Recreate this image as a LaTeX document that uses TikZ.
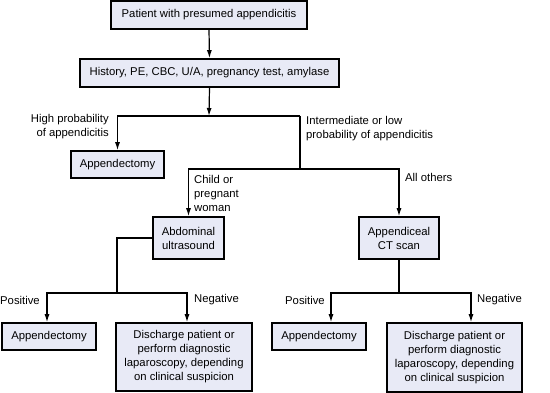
\documentclass[tikz,border=0pt]{standalone}
\usepackage{fontspec}
\setmainfont{Liberation Sans}
\usetikzlibrary{arrows.meta}
\definecolor{boxfill}{HTML}{E8EAF6}
\tikzset{
  box/.style={draw=black, line width=1.6pt, fill=boxfill, inner sep=0pt, align=center,
    font=\fontsize{11.3}{14}\selectfont},
  lbl/.style={inner sep=0pt, font=\fontsize{11.3}{14}\selectfont},
  conn/.style={line width=1.2pt},
  arr/.style={line width=1.2pt, -{Latex[length=8pt,width=5pt]}},
}
\begin{document}
\begin{tikzpicture}[x=1pt,y=-1pt]
\fill[white] (0,0) rectangle (550,393);
\useasboundingbox (0,0) rectangle (550,393);
% boxes
\node[box, minimum width=196pt, minimum height=28pt] (b1) at (209,15) {Patient with presumed appendicitis};
\node[box, minimum width=259pt, minimum height=28pt] (b2) at (209.5,73) {History, PE, CBC, U/A, pregnancy test, amylase};
\node[box, minimum width=93pt, minimum height=27pt] (a1) at (117.5,164.5) {Appendectomy};
\node[box, minimum width=71pt, minimum height=42pt] (us) at (188.5,238) {Abdominal\\ultrasound};
\node[box, minimum width=80pt, minimum height=42pt] (ct) at (399,238) {Appendiceal\\CT scan};
\node[box, minimum width=94pt, minimum height=27pt] (a2) at (49,336.5) {Appendectomy};
\node[box, minimum width=136pt, minimum height=68pt] (d1) at (184,357) {Discharge patient or\\perform diagnostic\\laparoscopy, depending\\on clinical suspicion};
\node[box, minimum width=94pt, minimum height=27pt] (a3) at (319,336.5) {Appendectomy};
\node[box, minimum width=135pt, minimum height=69pt] (d2) at (454.5,357.5) {Discharge patient or\\perform diagnostic\\laparoscopy, depending\\on clinical suspicion};
% junction coordinates
\coordinate (j1) at (209,116);
\coordinate (jL) at (117.5,116);
\coordinate (jR) at (300,116);
\coordinate (j2) at (300,169);
\coordinate (j2L) at (188.5,169);
\coordinate (j2R) at (399,169);
\coordinate (u1) at (117,238);
\coordinate (u2) at (117,293);
\coordinate (uL) at (47,293);
\coordinate (uR) at (187,293);
\coordinate (c2) at (399,293);
\coordinate (cL) at (331,293);
\coordinate (cR) at (471,293);
% connectors
\draw[arr] (b1.south) -- (b2.north);
\draw[arr] (b2.south) -- (j1);
\draw[arr] (jR) -- (jL) -- (a1.north);
\draw[conn] (jR) -- (j2);
\draw[arr] (j2R) -- (j2L) -- (us.north);
\draw[arr] (j2L) -- (j2R) -- (ct.north);
\draw[conn] (us.west) -- (u1) -- (u2);
\draw[arr] (uR) -- (uL) -- (a2.north -| uL);
\draw[arr] (uL) -- (uR) -- (d1.north -| uR);
\draw[conn] (ct.south) -- (c2);
\draw[arr] (cR) -- (cL) -- (a3.north -| cL);
\draw[arr] (cL) -- (cR) -- (d2.north -| cR);
% labels
\node[lbl, anchor=east, align=right] (l1) at (109,127) {High probability\\of appendicitis};
\node[lbl, anchor=west, align=left] (l2) at (306,129) {Intermediate or low\\probability of appendicitis};
\node[lbl, anchor=west, align=left] (l3) at (194,193) {Child or\\pregnant\\woman};
\node[lbl, anchor=west] (l4) at (405,177) {All others};
\node[lbl, anchor=west] (l5) at (0,300) {Positive};
\node[lbl, anchor=west] (l6) at (194,300) {Negative};
\node[lbl, anchor=west] (l7) at (285,300) {Positive};
\node[lbl, anchor=west] (l8) at (477,300) {Negative};
\end{tikzpicture}
\end{document}
